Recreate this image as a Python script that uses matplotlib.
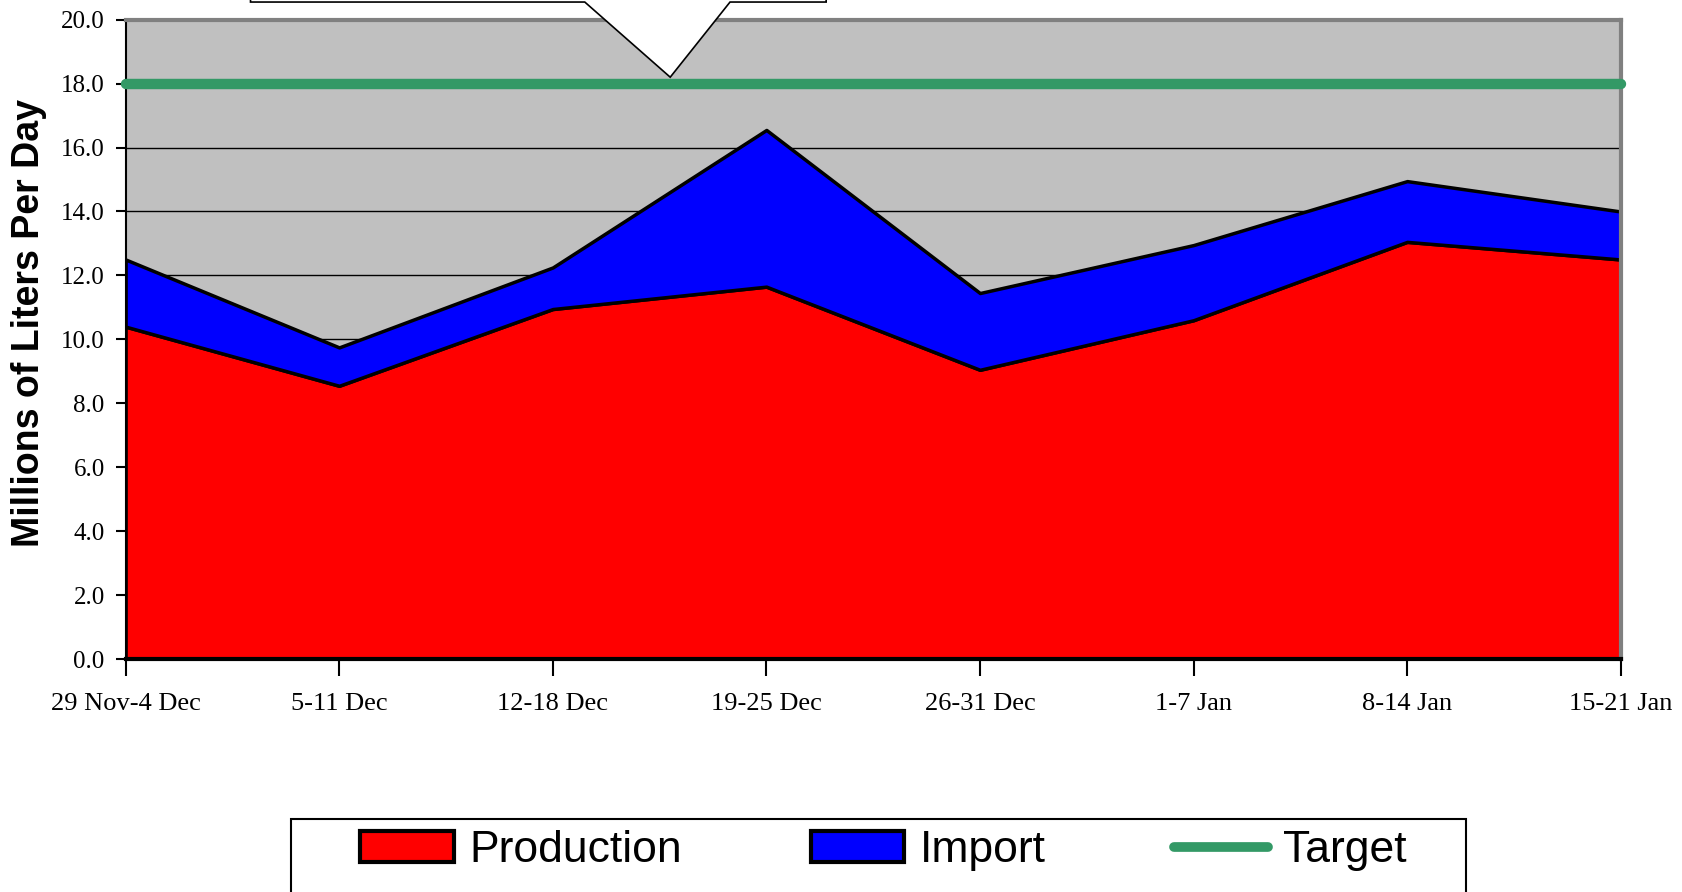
import matplotlib
matplotlib.use("Agg")
import matplotlib.pyplot as plt
import numpy as np
from matplotlib.patches import Rectangle, Polygon, Patch
from matplotlib.lines import Line2D

# weekly periods
weeks = ['29 Nov-4 Dec', '5-11 Dec', '12-18 Dec', '19-25 Dec',
         '26-31 Dec', '1-7 Jan', '8-14 Jan', '15-21 Jan']
production = [10.4, 8.55, 10.95, 11.65, 9.05, 10.6, 13.05, 12.5]
imports = [2.1, 1.2, 1.3, 4.9, 2.4, 2.35, 1.9, 1.5]
target = 18.0

fig = plt.figure(figsize=(16.83, 8.92), dpi=100)
ax = fig.add_axes([0.0746, 0.261, 0.8884, 0.717])

x = np.arange(len(weeks))
prod = np.array(production)
total = prod + np.array(imports)

ax.set_facecolor('#C0C0C0')
ax.yaxis.grid(True, color='black', linewidth=1.0, zorder=0)
ax.set_axisbelow(True)

ax.fill_between(x, 0, prod, facecolor='#FF0000', edgecolor='black',
                linewidth=2.5, zorder=2)
ax.fill_between(x, prod, total, facecolor='#0000FF', edgecolor='black',
                linewidth=2.5, zorder=2)
ax.plot([x[0], x[-1]], [target, target], color='#339966', linewidth=7.5,
        solid_capstyle='round', zorder=3, clip_on=False)

ax.set_xlim(0, len(weeks) - 1)
ax.set_ylim(0, 20)
yt = np.arange(0, 20.1, 2.0)
ax.set_yticks(yt)
ax.set_yticklabels([f'{v:.1f}' for v in yt],
                   fontfamily='Liberation Serif', fontsize=18)
ax.set_xticks(x)
ax.set_xticklabels(weeks, fontfamily='Liberation Serif', fontsize=19)
ax.tick_params(axis='x', length=12, width=1.5, pad=12)
ax.tick_params(axis='y', length=7, width=1.5, pad=8)

for s in ['top', 'right']:
    ax.spines[s].set_color('#808080')
    ax.spines[s].set_linewidth(3)
ax.spines['left'].set_color('black')
ax.spines['left'].set_linewidth(1.5)
ax.spines['bottom'].set_color('black')
ax.spines['bottom'].set_linewidth(3)
ax.spines['bottom'].set_zorder(4)

fig.text(0.0175, 0.638, 'Millions of Liters Per Day', rotation=90,
         ha='center', va='center', fontfamily='Liberation Sans',
         fontweight='bold', fontsize=27)

# callout box at the top (text cut off by the frame)
callout = Polygon([[0.585, 22.5], [0.585, 20.55], [2.15, 20.55], [2.55, 18.2],
                   [2.83, 20.55], [3.28, 20.55], [3.28, 22.5]],
                  closed=True, facecolor='white', edgecolor='black',
                  linewidth=1.2, clip_on=False, zorder=5)
ax.add_patch(callout)

# legend box
fig.patches.append(Rectangle((0.173, -0.05), 0.698, 0.132, transform=fig.transFigure,
                             facecolor='white', edgecolor='black', linewidth=1.5))
handles = [Patch(facecolor='#FF0000', edgecolor='black', linewidth=3),
           Patch(facecolor='#0000FF', edgecolor='black', linewidth=3),
           Line2D([0], [0], color='#339966', linewidth=7, solid_capstyle='round')]
fig.legend(handles, ['Production', 'Import', 'Target'], loc='center',
           bbox_to_anchor=(0.525, 0.046), ncol=3, frameon=False,
           prop={'family': 'Liberation Sans', 'size': 32},
           handlelength=2.1, handleheight=0.7, handletextpad=0.35,
           columnspacing=2.9)

fig.savefig('out.png', dpi=100)
